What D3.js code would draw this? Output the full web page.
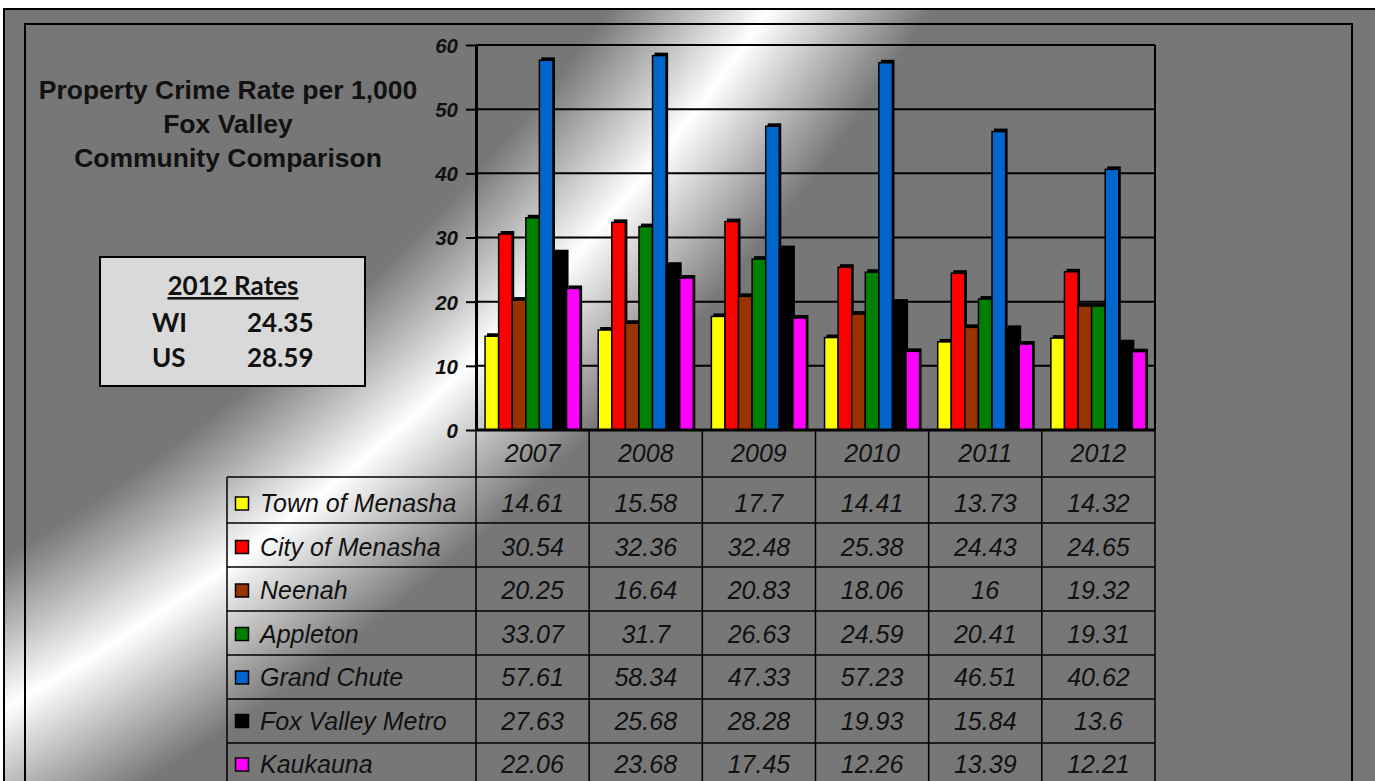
<!DOCTYPE html>
<html>
<head>
<meta charset="utf-8">
<script src="https://cdn.jsdelivr.net/npm/d3@7"></script>
<style>
  body { margin: 0; background: #fff; overflow: hidden; }
  text { font-family: "Liberation Sans", Arial, sans-serif; }
</style>
</head>
<body>
<div id="chart"></div>
<script>
// data
const years = ['2007', '2008', '2009', '2010', '2011', '2012'];
const communities = ['Town of Menasha', 'City of Menasha', 'Neenah', 'Appleton', 'Grand Chute', 'Fox Valley Metro', 'Kaukauna'];
const townOfMenasha  = [14.61, 15.58, 17.7, 14.41, 13.73, 14.32];
const cityOfMenasha  = [30.54, 32.36, 32.48, 25.38, 24.43, 24.65];
const neenah         = [20.25, 16.64, 20.83, 18.06, 16, 19.32];
const appleton       = [33.07, 31.7, 26.63, 24.59, 20.41, 19.31];
const grandChute     = [57.61, 58.34, 47.33, 57.23, 46.51, 40.62];
const foxValleyMetro = [27.63, 25.68, 28.28, 19.93, 15.84, 13.6];
const kaukauna       = [22.06, 23.68, 17.45, 12.26, 13.39, 12.21];
const yTicks = [0, 10, 20, 30, 40, 50, 60];
const rateLabels = ['WI', 'US'];
const rateValues = ['24.35', '28.59'];
const titleLines = ['Property Crime Rate per 1,000', 'Fox Valley', 'Community Comparison'];

const seriesColors = ['#ffff00', '#ff0000', '#993300', '#008000', '#0066cc', '#000000', '#ff00ff'];

class CrimeChart {

  constructor(_config, _series) {
    this.config = {
      parentElement: _config.parentElement,
      containerWidth: 1375,
      containerHeight: 781,
      plot: {left: 476, right: 1155, top: 45, bottom: 430},
      tableLeft: 227,
      headerHeight: 47,
      firstRowHeight: 46,
      rowHeight: 44
    };
    this.series = _series;
    this.initVis();
  }

  initVis() {
    let vis = this;
    const c = vis.config;

    vis.svg = d3.select(c.parentElement).append('svg')
        .attr('width', c.containerWidth)
        .attr('height', c.containerHeight);

    // background: a wide gray ring with a white streak crossing the chart
    const defs = vis.svg.append('defs');
    const R = 2600;
    const grad = defs.append('radialGradient')
        .attr('id', 'bg')
        .attr('gradientUnits', 'userSpaceOnUse')
        .attr('cx', -1090).attr('cy', -1258).attr('r', R);
    [[0, '#777777'], [2120 / R, '#777777'], [2250 / R, '#ffffff'], [2385 / R, '#777777'], [1, '#777777']]
      .forEach(s => grad.append('stop').attr('offset', s[0]).attr('stop-color', s[1]));

    vis.svg.append('rect')
        .attr('x', 4).attr('y', 9)
        .attr('width', 1400).attr('height', 800)
        .attr('fill', 'url(#bg)')
        .attr('stroke', '#000').attr('stroke-width', 2);

    vis.svg.append('rect')
        .attr('x', 25).attr('y', 24)
        .attr('width', 1352 - 25).attr('height', 800)
        .attr('fill', 'none')
        .attr('stroke', '#000').attr('stroke-width', 2);

    // scales
    vis.xScale = d3.scaleBand()
        .domain(years)
        .range([c.plot.left, c.plot.right])
        .paddingInner(0.16)
        .paddingOuter(0.08);

    vis.innerScale = d3.scaleBand()
        .domain(communities)
        .range([0, vis.xScale.bandwidth()]);

    vis.yScale = d3.scaleLinear()
        .domain([0, 60])
        .range([c.plot.bottom, c.plot.top]);

    vis.chart = vis.svg.append('g');

    vis.renderVis();
  }

  renderVis() {
    let vis = this;
    const c = vis.config;

    // gridlines
    vis.chart.append('g')
        .selectAll('line')
        .data(yTicks.filter(t => t > 0))
        .join('line')
        .attr('x1', c.plot.left).attr('x2', c.plot.right)
        .attr('y1', d => vis.yScale(d)).attr('y2', d => vis.yScale(d))
        .attr('stroke', '#000').attr('stroke-width', 2);

    // right border of the plot
    vis.chart.append('line')
        .attr('x1', c.plot.right).attr('x2', c.plot.right)
        .attr('y1', c.plot.top).attr('y2', c.plot.bottom)
        .attr('stroke', '#000').attr('stroke-width', 2);

    // bars, with a small offset shadow like the original
    const bw = vis.innerScale.bandwidth();
    const groups = vis.chart.selectAll('.group')
        .data(years)
        .join('g')
        .attr('class', 'group')
        .attr('transform', d => `translate(${vis.xScale(d)},0)`);

    groups.each(function(year, yi) {
      const g = d3.select(this);
      vis.series.forEach((s, si) => {
        const x = vis.innerScale(s.name);
        const yTop = vis.yScale(s.values[yi]);
        const h = c.plot.bottom - yTop;
        g.append('rect')
            .attr('x', x + 2).attr('y', yTop - 3)
            .attr('width', bw).attr('height', h + 3)
            .attr('fill', '#000');
        g.append('rect')
            .attr('class', 'bar')
            .attr('x', x).attr('y', yTop)
            .attr('width', bw).attr('height', h)
            .attr('fill', seriesColors[si])
            .attr('stroke', '#000').attr('stroke-width', 1.5);
      });
    });

    // y axis
    vis.yAxis = d3.axisLeft(vis.yScale)
        .tickValues(yTicks)
        .tickSize(10)
        .tickPadding(8)
        .tickSizeOuter(0);

    vis.yAxisG = vis.chart.append('g')
        .attr('class', 'axis y-axis')
        .attr('transform', `translate(${c.plot.left},0)`)
        .call(vis.yAxis);

    vis.yAxisG.select('.domain').attr('stroke', '#000').attr('stroke-width', 3);
    vis.yAxisG.selectAll('.tick line').attr('stroke', '#000').attr('stroke-width', 2);
    vis.yAxisG.selectAll('.tick text')
        .attr('fill', '#111')
        .attr('dy', '0.36em')
        .style('font-family', '"Liberation Sans", Arial, sans-serif')
        .style('font-size', '20.5px')
        .style('font-weight', 'bold')
        .style('font-style', 'italic');

    // x axis baseline
    vis.chart.append('line')
        .attr('x1', c.plot.left).attr('x2', c.plot.right)
        .attr('y1', c.plot.bottom).attr('y2', c.plot.bottom)
        .attr('stroke', '#000').attr('stroke-width', 3);

    // data table
    const step = vis.xScale.step();
    const gap = (step - vis.xScale.bandwidth()) / 2;
    const colLeft = d => vis.xScale(d) - gap;
    const headTop = c.plot.bottom;
    const bodyTop = headTop + c.headerHeight;
    const rowTops = communities.map((d, i) => i === 0 ? bodyTop : bodyTop + c.firstRowHeight + (i - 1) * c.rowHeight);
    const bodyBottom = rowTops[rowTops.length - 1] + c.rowHeight;
    const table = vis.svg.append('g').attr('class', 'table');

    const lineAttrs = sel => sel.attr('stroke', '#000').attr('stroke-width', 1.5);

    // column verticals
    years.concat(['end']).forEach((y, i) => {
      const x = i < years.length ? colLeft(y) : colLeft(years[years.length - 1]) + step;
      table.append('line')
          .attr('x1', x).attr('x2', x)
          .attr('y1', headTop).attr('y2', bodyBottom)
          .call(lineAttrs);
    });
    table.append('line')
        .attr('x1', c.tableLeft).attr('x2', c.tableLeft)
        .attr('y1', bodyTop).attr('y2', bodyBottom)
        .call(lineAttrs);
    rowTops.concat([bodyBottom]).forEach(y => {
      table.append('line')
          .attr('x1', c.tableLeft).attr('x2', c.plot.right)
          .attr('y1', y).attr('y2', y)
          .call(lineAttrs);
    });

    const cellFont = sel => sel
        .attr('fill', '#111')
        .style('font-size', '25px')
        .style('font-style', 'italic');

    table.selectAll('.year-label')
        .data(years)
        .join('text')
        .attr('class', 'year-label')
        .attr('x', d => vis.xScale(d) + vis.xScale.bandwidth() / 2)
        .attr('y', headTop + 32)
        .attr('text-anchor', 'middle')
        .text(d => d)
        .call(cellFont);

    vis.series.forEach((s, si) => {
      const base = bodyTop + 35 + si * 43.5;
      table.append('rect')
          .attr('x', 235.5).attr('y', base - 15)
          .attr('width', 13).attr('height', 13)
          .attr('fill', seriesColors[si])
          .attr('stroke', '#000').attr('stroke-width', 1.5);
      table.append('text')
          .attr('x', 260).attr('y', base)
          .text(s.name)
          .call(cellFont);
      table.selectAll(null)
          .data(s.values)
          .join('text')
          .attr('x', (d, i) => vis.xScale(years[i]) + vis.xScale.bandwidth() / 2)
          .attr('y', base)
          .attr('text-anchor', 'middle')
          .text(d => String(d))
          .call(cellFont);
    });

    // title
    vis.svg.append('g')
        .selectAll('text')
        .data(titleLines)
        .join('text')
        .attr('x', 228)
        .attr('y', (d, i) => 99 + i * 34)
        .attr('text-anchor', 'middle')
        .attr('fill', '#111')
        .style('font-size', '26.5px')
        .style('font-weight', 'bold')
        .text(d => d);

    // 2012 rates box
    const box = vis.svg.append('g');
    box.append('rect')
        .attr('x', 100).attr('y', 257)
        .attr('width', 265).attr('height', 129)
        .attr('fill', '#d9d9d9')
        .attr('stroke', '#000').attr('stroke-width', 2);
    const boxFont = sel => sel
        .attr('fill', '#111')
        .style('font-family', 'Lato, "Open Sans", sans-serif')
        .style('font-size', '26px')
        .style('font-weight', 'bold');
    box.append('text')
        .attr('x', 233).attr('y', 295)
        .attr('text-anchor', 'middle')
        .style('text-decoration', 'underline')
        .text('2012 Rates')
        .call(boxFont);
    rateLabels.forEach((l, i) => {
      box.append('text').attr('x', 152).attr('y', 332 + i * 35).text(l).call(boxFont);
      box.append('text').attr('x', 247).attr('y', 332 + i * 35).text(rateValues[i]).call(boxFont);
    });
  }
}

const seriesValues = [townOfMenasha, cityOfMenasha, neenah, appleton, grandChute, foxValleyMetro, kaukauna];
const series = communities.map((name, i) => ({name: name, values: seriesValues[i]}));

new CrimeChart({parentElement: '#chart'}, series);
</script>
</body>
</html>
